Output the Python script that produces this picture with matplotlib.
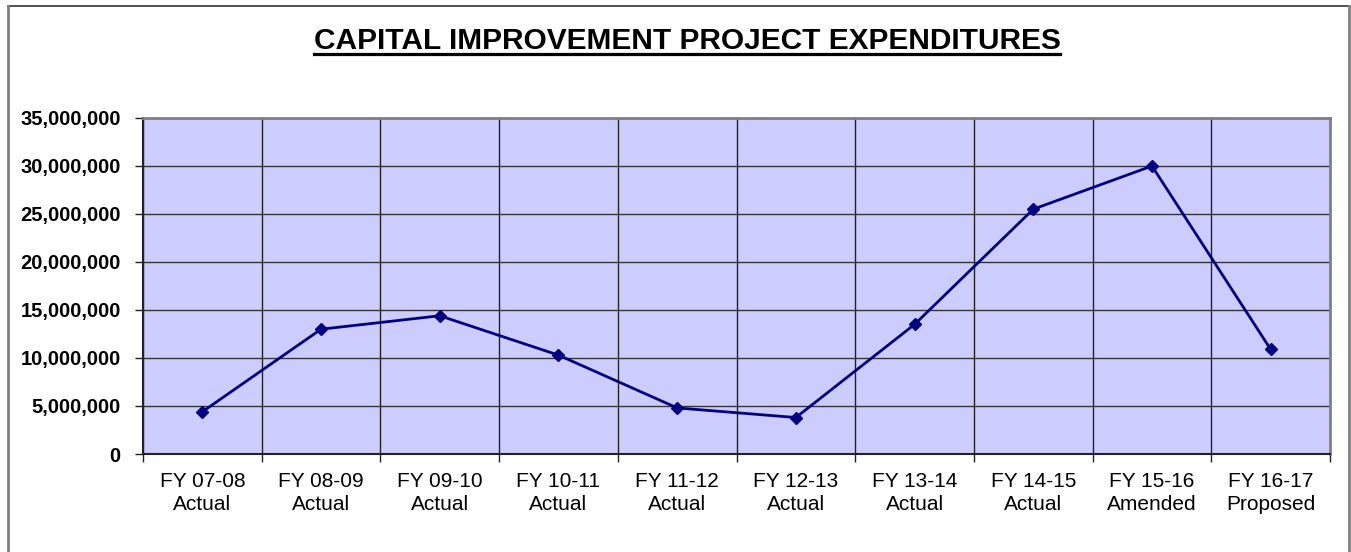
import matplotlib
matplotlib.use("Agg")
import matplotlib.pyplot as plt
from matplotlib.ticker import FuncFormatter, FixedLocator
from matplotlib.lines import Line2D

categories = ["FY 07-08\nActual", "FY 08-09\nActual", "FY 09-10\nActual", "FY 10-11\nActual",
              "FY 11-12\nActual", "FY 12-13\nActual", "FY 13-14\nActual", "FY 14-15\nActual",
              "FY 15-16\nAmended", "FY 16-17\nProposed"]
expenditures = [4400000, 13000000, 14400000, 10300000, 4800000, 3800000,
                13500000, 25500000, 30000000, 10900000]
y_ticks = [0, 5000000, 10000000, 15000000, 20000000, 25000000, 30000000, 35000000]
title = "CAPITAL IMPROVEMENT PROJECT EXPENDITURES"

plt.rcParams['font.family'] = ['Liberation Sans', 'DejaVu Sans']

W, H = 1351, 552
fig = plt.figure(figsize=(W / 100, H / 100), dpi=100)

# outer chart border
fig.add_artist(Line2D([8 / W, 1349 / W], [1 - 6 / H, 1 - 6 / H], transform=fig.transFigure,
                      color="#333333", lw=1.2))
fig.add_artist(Line2D([8 / W, 8 / W], [0, 1 - 6 / H], transform=fig.transFigure,
                      color="#808080", lw=2))
fig.add_artist(Line2D([1349 / W, 1349 / W], [0, 1 - 6 / H], transform=fig.transFigure,
                      color="#808080", lw=2))

left, right, top, bottom = 143, 1330, 118, 454
ax = fig.add_axes([left / W, 1 - bottom / H, (right - left) / W, (bottom - top) / H])
ax.set_facecolor("#CCCCFF")

x = list(range(len(categories)))
ax.plot(x, expenditures, color="#000080", lw=2, marker="D", markersize=6.5,
        markerfacecolor="#000080", markeredgecolor="#000080", zorder=3)

ax.set_xlim(-0.5, len(categories) - 0.5)
ax.set_ylim(0, 35000000)

ax.set_xticks(x)
ax.set_xticklabels(categories, fontsize=15, linespacing=1.24)
ax.xaxis.set_minor_locator(FixedLocator([i - 0.5 for i in range(len(categories) + 1)]))
ax.tick_params(axis="x", which="major", length=0, pad=13)
ax.tick_params(axis="x", which="minor", length=6, width=1, color="#222222")
ax.grid(True, axis="x", which="minor", color="#222222", lw=1)

ax.set_yticks(y_ticks)
ax.yaxis.set_major_formatter(FuncFormatter(lambda v, p: f"{int(v):,}"))
ax.tick_params(axis="y", length=6, width=1, color="#222222", pad=10)
for lbl in ax.get_yticklabels():
    lbl.set_fontweight("bold")
    lbl.set_fontsize(14.5)
ax.grid(True, axis="y", which="major", color="#333333", lw=1)
ax.set_axisbelow(True)

for s in ["left", "bottom"]:
    ax.spines[s].set_color("#222222")
    ax.spines[s].set_linewidth(1.5)
for s in ["top", "right"]:
    ax.spines[s].set_color("#808080")
    ax.spines[s].set_linewidth(2)

t = fig.text(687 / W, 1 - 49 / H, title, ha="center", va="baseline", fontsize=21.5,
             fontweight="bold")
fig.canvas.draw()
bb = t.get_window_extent()
fig.add_artist(Line2D([bb.x0 / W, bb.x1 / W], [1 - 54 / H, 1 - 54 / H],
                      transform=fig.transFigure, color="black", lw=2.3))

fig.savefig("out.png", dpi=100)
